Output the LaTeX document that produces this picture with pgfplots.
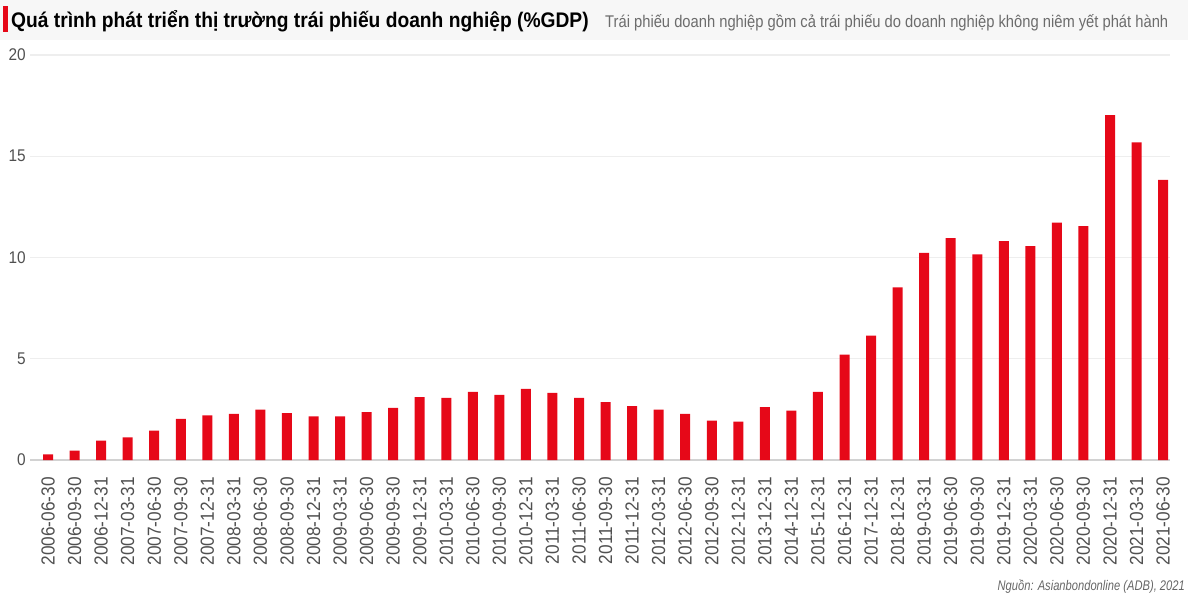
\documentclass[border=0pt]{standalone}
\usepackage{pgfplots}
\pgfplotsset{compat=1.18}
\usepackage{fontspec}
\setmainfont{Liberation Sans}[FakeStretch=0.91]
\newfontfamily\titlefont{Liberation Sans}[FakeStretch=0.91]
\newfontfamily\subfont{Liberation Sans}[FakeStretch=0.87]
\newfontfamily\notefont{Liberation Sans}[FakeStretch=0.80]
\definecolor{barred}{RGB}{230,8,24}
\definecolor{ticktext}{RGB}{80,80,80}
\definecolor{gridc}{RGB}{238,238,238}
\definecolor{zeroc}{RGB}{210,210,210}

\pgfplotstableread{
idx val
0 0.28
1 0.46
2 0.96
3 1.12
4 1.45
5 2.03
6 2.21
7 2.28
8 2.49
9 2.31
10 2.16
11 2.16
12 2.36
13 2.57
14 3.10
15 3.07
16 3.37
17 3.22
18 3.51
19 3.32
20 3.07
21 2.86
22 2.66
23 2.49
24 2.28
25 1.95
26 1.90
27 2.61
28 2.44
29 3.37
30 5.21
31 6.14
32 8.53
33 10.23
34 10.96
35 10.15
36 10.81
37 10.56
38 11.72
39 11.55
40 17.03
41 15.69
42 13.83
}\bonds

\begin{document}
\begin{tikzpicture}
\path[use as bounding box] (0,0) rectangle (1188bp,-598bp);
\fill[gray!6] (0,0) rectangle (1188bp,-40bp);
\fill[barred] (3bp,-6bp) rectangle (8bp,-32bp);
\node[anchor=base west, inner sep=0pt] at (11bp,-27bp)
  {\titlefont\bfseries\fontsize{21.2}{25}\selectfont Quá trình phát triển thị trường trái phiếu doanh nghiệp (\%GDP)};
\node[anchor=base west, inner sep=0pt, text=gray!85!black] at (605bp,-27bp)
  {\subfont\fontsize{17}{20}\selectfont Trái phiếu doanh nghiệp gồm cả trái phiếu do doanh nghiệp không niêm yết phát hành};
\begin{axis}[
  at={(30bp,-460bp)}, anchor=south west,
  scale only axis, width=1140bp, height=405bp,
  xmin=-0.68, xmax=42.26, ymin=0, ymax=20,
  ytick={0,5,10,15,20},
  xtick={0,...,42},
  xticklabels={2006-06-30,2006-09-30,2006-12-31,2007-03-31,2007-06-30,2007-09-30,2007-12-31,2008-03-31,2008-06-30,2008-09-30,2008-12-31,2009-03-31,2009-06-30,2009-09-30,2009-12-31,2010-03-31,2010-06-30,2010-09-30,2010-12-31,2011-03-31,2011-06-30,2011-09-30,2011-12-31,2012-03-31,2012-06-30,2012-09-30,2012-12-31,2013-12-31,2014-12-31,2015-12-31,2016-12-31,2017-12-31,2018-12-31,2019-03-31,2019-06-30,2019-09-30,2019-12-31,2020-03-31,2020-06-30,2020-09-30,2020-12-31,2021-03-31,2021-06-30},
  axis line style={draw=none},
  major tick style={draw=none},
  ymajorgrids, grid style={gridc, line width=1.2bp},
  /pgf/number format/assume math mode=true,
  ticklabel style={text=ticktext},
  yticklabel style={font=\fontsize{17}{20}\selectfont, anchor=east, inner sep=0pt, xshift=-4bp},
  xticklabel style={font=\fontsize{19}{21}\selectfont, rotate=90, anchor=east, inner sep=0pt},
  xticklabel shift=17bp,
  clip=false,
]
\draw[zeroc, line width=2.2bp] (axis cs:-0.68,0) -- (axis cs:42.26,0);
\addplot[ybar, bar width=10bp, fill=barred, draw=none, bar shift=0pt] table[x=idx, y=val] {\bonds};
\end{axis}
\node[anchor=base east, inner sep=0pt, text=gray!80!black] at (1185bp,-590bp)
  {\notefont\itshape\fontsize{14}{16}\selectfont Nguồn: Asianbondonline (ADB), 2021};
\end{tikzpicture}
\end{document}
